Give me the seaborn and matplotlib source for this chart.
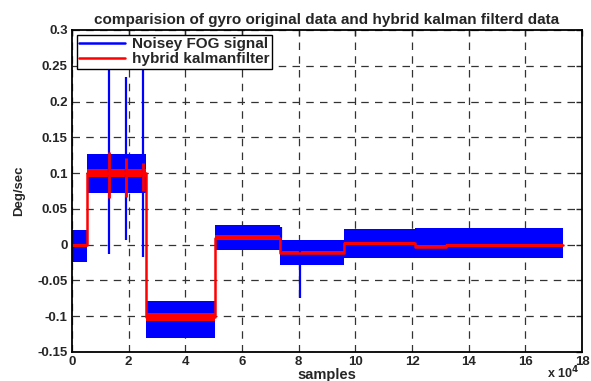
import numpy as np
import pandas as pd
import matplotlib
matplotlib.use('Agg')
import matplotlib.pyplot as plt
from matplotlib.lines import Line2D
import seaborn as sns

# 구간별 데이터 (x 단위: 10^4 samples)
seg_start = [0.0, 0.52, 2.60, 5.05, 7.35, 9.60, 12.10, 13.20]
seg_end = 17.33
blue_lo = [-0.024, 0.072, -0.130, -0.007, -0.028, -0.018, -0.018, -0.018]
blue_hi = [0.020, 0.127, -0.079, 0.027, 0.007, 0.022, 0.023, 0.023]
red_level = [-0.001, 0.100, -0.101, 0.010, -0.011, 0.002, -0.003, -0.001]
red_half = [0.002, 0.006, 0.006, 0.003, 0.002, 0.002, 0.002, 0.002]

# 스파이크
spike_x = [1.31, 1.89, 2.52, 8.05, 7.36]
spike_lo = [-0.013, 0.006, -0.017, -0.075, -0.010]
spike_hi = [0.270, 0.234, 0.270, 0.000, 0.025]
red_spike_x = [1.31, 1.89, 2.52]
red_spike_lo = [0.065, 0.067, 0.075]
red_spike_hi = [0.130, 0.121, 0.114]

xticks = [0, 2, 4, 6, 8, 10, 12, 14, 16, 18]
yticks = [-0.15, -0.1, -0.05, 0, 0.05, 0.1, 0.15, 0.2, 0.25, 0.3]
ytick_labels = ['-0.15', '-0.1', '-0.05', '0', '0.05', '0.1', '0.15', '0.2', '0.25', '0.3']

sns.set_style("white")
plt.rcParams['font.family'] = ['Liberation Sans', 'DejaVu Sans']
plt.rcParams['font.weight'] = 'bold'

fig = plt.figure(figsize=(5.91, 3.81), dpi=100)
ax = fig.add_axes([72/591, 1 - 352/381, 510/591, 322/381])

# 노이즈 신호 (파란 밴드)
edges = seg_start + [seg_end]
ax.fill_between(edges, blue_lo + [blue_lo[-1]], blue_hi + [blue_hi[-1]],
                step='post', color='blue', linewidth=0)
ax.vlines(spike_x, spike_lo, spike_hi, color='blue', linewidth=1.6)

# 칼만필터 출력 (빨간 계단선)
red_df = pd.DataFrame({'x': edges, 'y': red_level + [red_level[-1]]})
sns.lineplot(x='x', y='y', data=red_df, estimator=None, sort=False,
             drawstyle='steps-post', color='red', linewidth=1.8, ax=ax)
lo_r = [a - b for a, b in zip(red_level, red_half)]
hi_r = [a + b for a, b in zip(red_level, red_half)]
ax.fill_between(edges, lo_r + [lo_r[-1]], hi_r + [hi_r[-1]],
                step='post', color='red', linewidth=0)
ax.vlines(red_spike_x, red_spike_lo, red_spike_hi, color='red', linewidth=2)

ax.set_xlim(0, 18)
ax.set_ylim(-0.15, 0.3)
ax.set_xticks(xticks)
ax.set_yticks(yticks)
ax.set_yticklabels(ytick_labels)
ax.tick_params(direction='in', top=True, right=True, length=4, width=1,
               labelsize=9.5, pad=3)
for lab in ax.get_xticklabels() + ax.get_yticklabels():
    lab.set_fontweight('bold')
ax.grid(True, color='#333333', linestyle=(0, (6, 5)), linewidth=0.9)
for sp in ax.spines.values():
    sp.set_color('black')
    sp.set_linewidth(1.3)

ax.set_title('comparision of gyro original data and hybrid kalman filterd data',
             fontsize=11, fontweight='bold', pad=4)
ax.set_xlabel('samples', fontsize=10.5, fontweight='bold', labelpad=0)
ax.set_ylabel('Deg/sec', fontsize=9.5, fontweight='bold', labelpad=9)
fig.text(0.925, 0.0, r'x 10$^{4}$', fontsize=9, fontweight='bold', va='bottom')

handles = [Line2D([0], [0], color='blue', linewidth=1.8),
           Line2D([0], [0], color='red', linewidth=1.8)]
leg = ax.legend(handles, ['Noisey FOG signal', 'hybrid kalmanfilter'],
                loc='upper left', fontsize=11, fancybox=False, framealpha=1,
                edgecolor='black', borderaxespad=0.3, handlelength=3.0,
                borderpad=0.15, labelspacing=0.1, handletextpad=0.5)
leg.get_frame().set_linewidth(1)
for t in leg.get_texts():
    t.set_fontweight('bold')

plt.savefig('out.png', dpi=100)
